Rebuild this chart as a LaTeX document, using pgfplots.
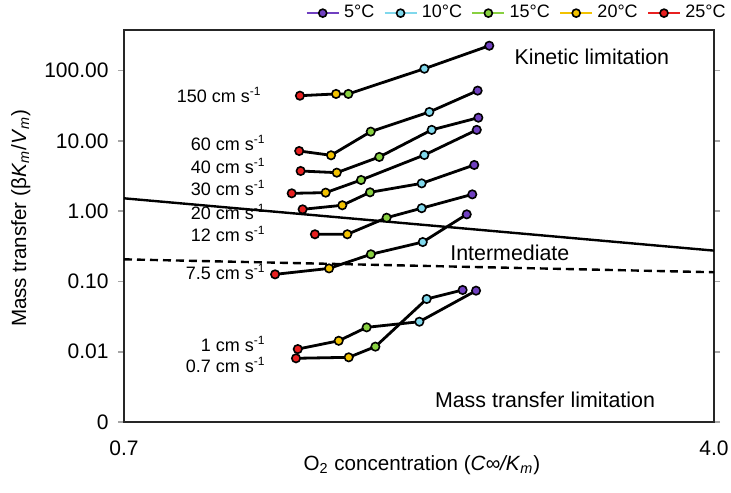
\documentclass[border=0pt]{standalone}
\usepackage{fontspec}
\setmainfont{Liberation Sans}
\usepackage{pgfplots}
\pgfplotsset{compat=1.18}
\definecolor{c5}{HTML}{7040C0}
\definecolor{c10}{HTML}{80D8EC}
\definecolor{c15}{HTML}{88D040}
\definecolor{c20}{HTML}{F2C200}
\definecolor{c25}{HTML}{E82020}
\pgfplotsset{
  templeg/.style={legend image code/.code={
    \draw[#1, line width=1.3pt] (0pt,0pt) -- (16pt,0pt);
    \draw[black, fill=#1, line width=0.8pt] (8pt,0pt) circle (2pt);}},
  speed/.style={black, line width=1.4pt, scatter, scatter src=explicit symbolic,
    mark=*, mark size=2.1pt,
    mark options={draw=black, line width=0.8pt, solid},
    scatter/classes={a={fill=c5}, b={fill=c10}, c={fill=c15}, d={fill=c20}, e={fill=c25}},
    forget plot},
}
\begin{document}
\begin{tikzpicture}
\begin{axis}[
  scale only axis, width=295pt, height=196pt,
  xmin=0.7, xmax=4.0, ymode=log, ymin=0.001, ymax=376.7,
  xtick={0.7,4.0}, xticklabels={0.7,4.0},
  ytick={0.001,0.01,0.1,1,10,100}, yticklabels={0,0.01,0.10,1.00,10.00,100.00},
  yminorticks=false,
  axis line style={line width=1.1pt, black!85},
  tick align=outside, major tick length=3pt,
  ytick style={black!35, line width=0.8pt},
  xtick style={draw=none},
  tick label style={font=\fontsize{10.5}{12}\selectfont},
  yticklabel style={xshift=-1.2pt},
  xticklabel style={yshift=-3pt},
  xlabel={O\textsubscript{2} concentration (\textit{C∞/K}\textsubscript{\textit{m}})},
  ylabel={Mass transfer (β\textit{K}\textsubscript{\textit{m}}/\textit{V}\textsubscript{\textit{m}})},
  label style={font=\fontsize{10.3}{12}\selectfont},
  xlabel style={at={(axis description cs:0.505,-0.11)}, anchor=center},
  ylabel style={at={(axis description cs:-0.175,0.52)}, anchor=center},
  legend style={at={(rel axis cs:1.027,1.043)}, anchor=east, draw=none, fill=none,
    font=\fontsize{9}{10}\selectfont, inner sep=0pt,
    /tikz/every even column/.append style={column sep=2.5pt}},
  legend columns=5,
]
\addlegendimage{templeg=c5}\addlegendentry{5°C}
\addlegendimage{templeg=c10}\addlegendentry{10°C}
\addlegendimage{templeg=c15}\addlegendentry{15°C}
\addlegendimage{templeg=c20}\addlegendentry{20°C}
\addlegendimage{templeg=c25}\addlegendentry{25°C}

% 150 cm/s
\addplot[speed] table[x=x, y=y, meta=T] {
x y T
1.684 43.8 e
1.886 46.4 d
1.955 46.4 c
2.380 106 b
2.743 225 a
};
% 60 cm/s
\addplot[speed] table[x=x, y=y, meta=T] {
x y T
1.680 7.16 e
1.858 6.22 d
2.080 13.5 c
2.408 25.7 b
2.678 51.7 a
};
% 40 cm/s
\addplot[speed] table[x=x, y=y, meta=T] {
x y T
1.688 3.72 e
1.890 3.52 d
2.128 5.89 c
2.421 14.3 b
2.682 21.3 a
};
% 30 cm/s
\addplot[speed] table[x=x, y=y, meta=T] {
x y T
1.638 1.79 e
1.828 1.83 d
2.026 2.77 c
2.380 6.28 b
2.673 14.3 a
};
% 20 cm/s
\addplot[speed] table[x=x, y=y, meta=T] {
x y T
1.699 1.06 e
1.921 1.21 d
2.076 1.85 c
2.365 2.48 b
2.659 4.53 a
};
% 12 cm/s
\addplot[speed] table[x=x, y=y, meta=T] {
x y T
1.768 0.468 e
1.949 0.468 d
2.169 0.805 c
2.365 1.10 b
2.648 1.73 a
};
% 7.5 cm/s
\addplot[speed] table[x=x, y=y, meta=T] {
x y T
1.545 0.126 e
1.847 0.153 d
2.081 0.243 c
2.371 0.363 b
2.617 0.899 a
};
% 1 cm/s
\addplot[speed] table[x=x, y=y, meta=T] {
x y T
1.672 0.0109 e
1.901 0.0143 d
2.057 0.0222 c
2.352 0.0267 b
2.669 0.0738 a
};
% 0.7 cm/s
\addplot[speed] table[x=x, y=y, meta=T] {
x y T
1.662 0.00806 e
1.957 0.00832 d
2.106 0.0118 c
2.393 0.0562 b
2.594 0.0755 a
};

% regime boundaries
\addplot[black, line width=1.2pt, forget plot] coordinates {(0.7,1.52) (4.0,0.274)};
\addplot[black, line width=1.2pt, dash pattern=on 4pt off 2.5pt, forget plot] coordinates {(0.7,0.206) (4.0,0.135)};

\coordinate (o) at (rel axis cs:0,0);

\begin{scope}[every node/.style={font=\fontsize{9}{10}\selectfont, anchor=east, inner sep=0pt}]
\node at (rel axis cs:0.234,0.834) {150 cm s\textsuperscript{-1}};
\node at (rel axis cs:0.2407,0.7117) {60 cm s\textsuperscript{-1}};
\node at (rel axis cs:0.2407,0.653) {40 cm s\textsuperscript{-1}};
\node at (rel axis cs:0.2407,0.597) {30 cm s\textsuperscript{-1}};
\node at (rel axis cs:0.2407,0.5357) {20 cm s\textsuperscript{-1}};
\node at (rel axis cs:0.2407,0.4796) {12 cm s\textsuperscript{-1}};
\node at (rel axis cs:0.2407,0.3827) {7.5 cm s\textsuperscript{-1}};
\node at (rel axis cs:0.2407,0.199) {1 cm s\textsuperscript{-1}};
\node at (rel axis cs:0.2407,0.1454) {0.7 cm s\textsuperscript{-1}};
\end{scope}
\begin{scope}[every node/.style={font=\fontsize{10.7}{12}\selectfont, anchor=center, inner sep=0pt}]
\node at (rel axis cs:0.793,0.931) {Kinetic limitation};
\node at (rel axis cs:0.654,0.431) {Intermediate};
\node at (rel axis cs:0.7136,0.0561) {Mass transfer limitation};
\end{scope}
\end{axis}
\pgfresetboundingbox
\path (o) ++(-62pt,-35pt) rectangle ++(365.5pt,246pt);
\end{tikzpicture}
\end{document}
